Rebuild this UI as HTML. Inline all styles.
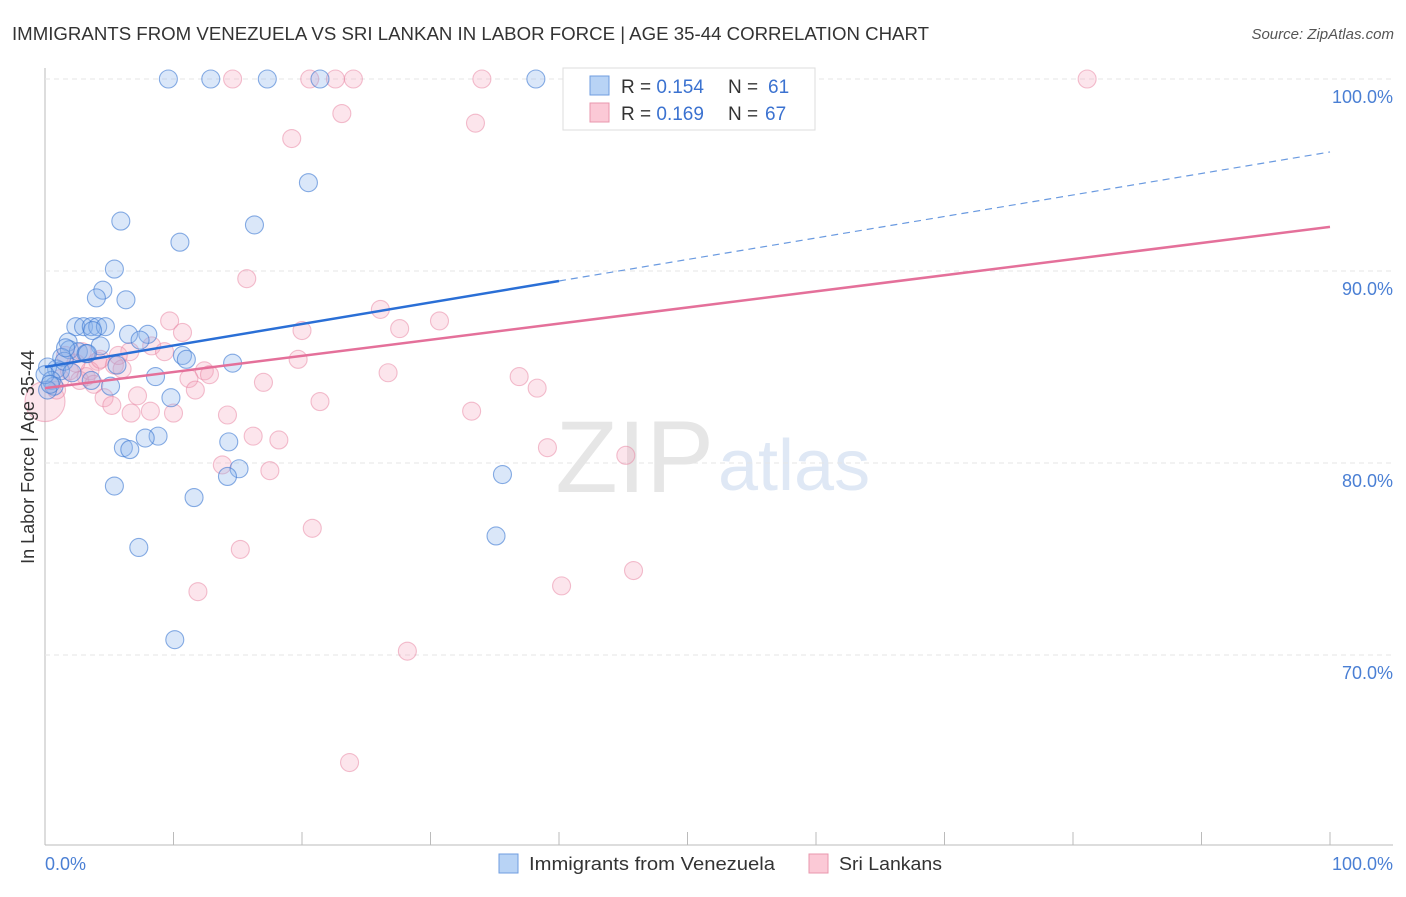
<!DOCTYPE html>
<html><head><meta charset="utf-8"><style>
body{margin:0;background:#fff;font-family:"Liberation Sans",sans-serif}
svg text{font-family:"Liberation Sans",sans-serif}
</style></head><body>
<svg id="chart" width="1406" height="892">
<text x="12" y="40" font-size="18" fill="#333" textLength="917" lengthAdjust="spacingAndGlyphs">IMMIGRANTS FROM VENEZUELA VS SRI LANKAN IN LABOR FORCE | AGE 35-44 CORRELATION CHART</text>
<text x="1394" y="39" font-size="15" fill="#555" font-style="italic" text-anchor="end">Source: ZipAtlas.com</text>
<text x="714" y="492" font-size="102" fill="#e6e6e6" text-anchor="end" font-family="Liberation Serif">ZIP</text>
<text x="718" y="490" font-size="72" fill="#dfe8f5">atlas</text>
<g id="grid"></g><g id="pts"></g><g id="lines"></g>
<text transform="translate(34,457) rotate(-90)" font-size="18" fill="#333" text-anchor="middle">In Labor Force | Age 35-44</text>
<text x="45" y="870" font-size="18" fill="#4a7fd4">0.0%</text>
<text x="1393" y="870" font-size="18" fill="#4a7fd4" text-anchor="end">100.0%</text>
<g>
<rect x="499" y="854" width="19" height="19" fill="#b8d3f5" stroke="#6f9ee0"/>
<text x="529" y="870" font-size="18" fill="#333" textLength="246" lengthAdjust="spacingAndGlyphs">Immigrants from Venezuela</text>
<rect x="809" y="854" width="19" height="19" fill="#fbc9d6" stroke="#e897ad"/>
<text x="839" y="870" font-size="18" fill="#333" textLength="103" lengthAdjust="spacingAndGlyphs">Sri Lankans</text>
</g>
<g>
<rect x="563" y="68" width="252" height="62" fill="#fff" stroke="#ddd"/>
<rect x="590" y="76" width="19" height="19" fill="#b8d3f5" stroke="#6f9ee0"/>
<rect x="590" y="103" width="19" height="19" fill="#fbc9d6" stroke="#e897ad"/>
<text x="621" y="93" font-size="19" fill="#333">R = <tspan fill="#3b72d0">0.154</tspan></text>
<text x="728" y="93" font-size="19" fill="#333">N = </text>
<text x="768" y="93" font-size="19" fill="#3b72d0">61</text>
<text x="621" y="120" font-size="19" fill="#333">R = <tspan fill="#3b72d0">0.169</tspan></text>
<text x="728" y="120" font-size="19" fill="#333">N = </text>
<text x="765" y="120" font-size="19" fill="#3b72d0">67</text>
</g>
</svg>
<script>
const yTicks=[100,90,80,70];
const yTickLabels=["100.0%","90.0%","80.0%","70.0%"];
const blueX=[9.6,12.9,17.3,21.4,38.2,20.5,5.9,16.3,10.5,5.4,4.5,4.0,6.3,2.4,3.0,3.6,4.1,4.7,3.7,6.5,8.0,1.8,4.3,7.4,1.9,2.6,3.2,1.3,0.9,0.2,1.2,0.5,0.7,0.2,10.7,11.0,14.6,5.6,8.6,3.6,5.1,9.8,14.3,8.8,7.8,6.1,6.6,15.1,14.2,35.6,5.4,11.6,35.1,7.3,10.1,1.5,2.1,0.0,1.6,3.3,0.4];
const blueY=[100,100,100,100,100,94.6,92.6,92.4,91.5,90.1,89.0,88.6,88.5,87.1,87.1,87.1,87.1,87.1,86.9,86.7,86.7,86.3,86.1,86.4,85.9,85.8,85.7,85.5,84.9,85.0,84.8,84.3,84.0,83.8,85.6,85.4,85.2,85.1,84.5,84.3,84.0,83.4,81.1,81.4,81.3,80.8,80.7,79.7,79.3,79.4,78.8,78.2,76.2,75.6,70.8,85.3,84.7,84.6,86.0,85.7,84.1];
const pinkX=[14.6,20.6,22.6,24.0,34.0,41.6,81.1,23.1,33.5,19.2,15.7,26.1,9.7,30.7,27.6,10.7,20.0,6.6,8.3,9.3,19.7,4.1,5.4,6.0,12.4,12.8,11.2,26.7,36.9,38.3,17.0,3.2,11.7,7.2,4.6,5.2,8.2,6.7,10.0,14.2,21.4,33.2,16.2,18.2,39.1,45.2,13.8,17.5,20.8,15.2,40.2,45.8,11.9,28.2,23.7,0.0,1.2,1.9,2.7,3.5,4.3,0.9,1.6,3.8,2.4,2.9,5.7];
const pinkY=[100,100,100,100,100,100,100,98.2,97.7,96.9,89.6,88.0,87.4,87.4,87.0,86.8,86.9,85.8,86.1,85.8,85.4,85.3,85.1,84.9,84.8,84.6,84.4,84.7,84.5,83.9,84.2,84.5,83.8,83.5,83.4,83.0,82.7,82.6,82.6,82.5,83.2,82.7,81.4,81.2,80.8,80.4,79.9,79.6,76.6,75.5,73.6,74.4,73.3,70.2,64.4,83.2,84.4,84.8,84.3,84.8,85.4,83.8,85.6,84.1,85.2,85.8,85.6];
const blueTrend=[85.0,96.2];
const pinkTrend=[83.9,92.3];
const NS="http://www.w3.org/2000/svg";
const X=v=>45+v*12.85, Y=v=>79+(100-v)*19.2;
function mk(t,a,p){const e=document.createElementNS(NS,t);for(const k in a)e.setAttribute(k,a[k]);p.appendChild(e);return e;}
const grid=document.getElementById('grid');
mk('line',{x1:45,y1:68,x2:45,y2:845,stroke:'#bbb'},grid);
mk('line',{x1:45,y1:845,x2:1393,y2:845,stroke:'#bbb'},grid);
for(let i=0;i<=10;i++){mk('line',{x1:45+i*128.5,y1:832,x2:45+i*128.5,y2:845,stroke:'#bbb'},grid);}
yTicks.forEach((t,i)=>{
 const l=mk('line',{x1:45,y1:Y(t),x2:1393,y2:Y(t),stroke:'#e6e6e6','stroke-dasharray':'5,4'},grid);
 
 
 const tx=mk('text',{x:1393,y:Y(t)+24,'font-size':18,fill:'#4a7fd4','text-anchor':'end'},grid);
 tx.textContent=yTickLabels[i];
 
 
});
const pts=document.getElementById('pts');
pinkX.forEach((x,i)=>{
 const c=mk('circle',{cx:X(x),cy:Y(pinkY[i]),r:(i==55?20:9),fill:'rgba(246,160,185,0.28)',stroke:'rgba(232,130,160,0.5)','stroke-width':1.1},pts);
 
 
});
blueX.forEach((x,i)=>{
 const c=mk('circle',{cx:X(x),cy:Y(blueY[i]),r:9,fill:'rgba(140,180,235,0.32)',stroke:'rgba(60,120,210,0.6)','stroke-width':1.1},pts);
 
 
});
const lines=document.getElementById('lines');
const bAt=v=>blueTrend[0]+(blueTrend[1]-blueTrend[0])*v/100;
const l1=mk('line',{x1:X(0),y1:Y(bAt(0)),x2:X(40),y2:Y(bAt(40)),stroke:'#2a6fd6','stroke-width':2.5},lines);


const l2=mk('line',{x1:X(40),y1:Y(bAt(40)),x2:X(100),y2:Y(bAt(100)),stroke:'#6a9ae0','stroke-width':1.2,'stroke-dasharray':'7,5'},lines);


const l3=mk('line',{x1:X(0),y1:Y(pinkTrend[0]),x2:X(100),y2:Y(pinkTrend[1]),stroke:'#e4709a','stroke-width':2.5},lines);


</script>
</body></html>
